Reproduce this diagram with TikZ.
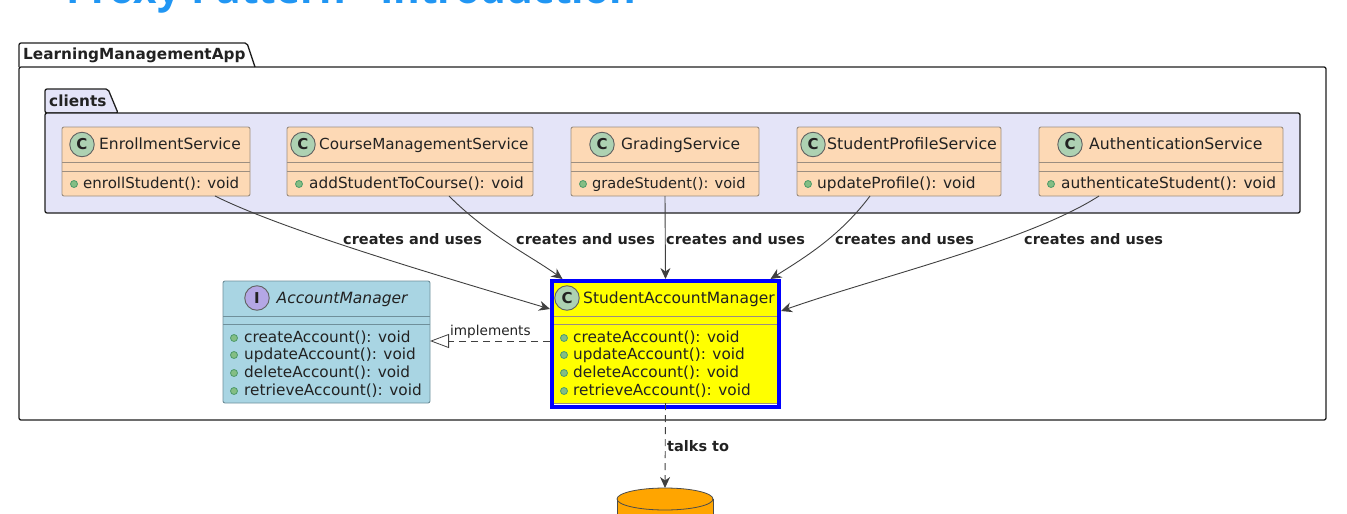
\documentclass[tikz,border=0pt]{standalone}
\usepackage{fontspec}
\setmainfont{DejaVu Sans}
\newfontfamily\titlefont{Open Sans}
\usetikzlibrary{arrows.meta}

\definecolor{pkgline}{HTML}{1E1E1E}
\definecolor{boxline}{HTML}{9C8E80}
\definecolor{acctline}{HTML}{6F8F9A}
\definecolor{peach}{HTML}{FDD9B5}
\definecolor{lavend}{HTML}{E4E4F8}
\definecolor{lightblue}{HTML}{A9D5E3}
\definecolor{circC}{HTML}{ADD1B2}
\definecolor{circI}{HTML}{B4A7E5}
\definecolor{dotfill}{HTML}{84BE84}
\definecolor{dotline}{HTML}{4E9A6A}
\definecolor{titleblue}{HTML}{2196F3}
\definecolor{txt}{HTML}{222222}
\definecolor{samyellow}{HTML}{FFFF00}
\definecolor{samblue}{HTML}{0000FF}
\definecolor{dborange}{HTML}{FFA500}

\tikzset{
  pkg/.style={draw=pkgline,line width=1.3pt,rounded corners=2pt},
  pkgname/.style={anchor=base west,inner sep=0pt,font=\bfseries\fontsize{15.3}{17}\selectfont,text=txt},
  classbox/.style={draw=boxline,line width=0.9pt,rounded corners=2pt,inner sep=0pt,outer sep=0pt},
  divline/.style={draw=boxline,line width=0.9pt},
  circbox/.style={circle,draw=pkgline!70,line width=0.9pt,minimum size=24.5pt,inner sep=0pt,font=\bfseries\fontsize{15}{15}\selectfont,text=txt},
  classname/.style={anchor=base west,inner sep=0pt,font=\fontsize{15.5}{17}\selectfont,text=txt},
  member/.style={anchor=base west,inner sep=0pt,font=\fontsize{15.3}{17}\selectfont,text=txt},
  memberdot/.style={circle,draw=dotline,fill=dotfill,line width=0.8pt,minimum size=7pt,inner sep=0pt},
  conn/.style={draw=pkgline!85,line width=0.9pt,-{Stealth[length=11pt,width=10pt,inset=3.5pt]}},
  connlabel/.style={anchor=base west,inner sep=0pt,font=\bfseries\fontsize{14.5}{16}\selectfont,text=txt},
}

\begin{document}
\begin{tikzpicture}[x=1pt,y=-1pt]
\useasboundingbox (0,0) rectangle (1347,514);

\node[anchor=base west,inner sep=0pt,text=titleblue,font=\titlefont\bfseries\fontsize{40.7}{48}\selectfont] (title) at (66,3) {Proxy Pattern - Introduction};

% outer package
\draw[pkg] (19,67) -- (19,43) -- (247,43) -- (255,67);
\draw[pkg] (19,67) rectangle (1326,420);
\node[pkgname] (appname) at (23,59) {LearningManagementApp};

% clients package
\draw[pkg,fill=lavend] (45,113) -- (45,89) -- (108,89) -- (118,113) -- cycle;
\draw[pkg,fill=lavend] (45,113) rectangle (1300,213);
\node[pkgname] (clientsname) at (49,106) {clients};

% client classes
\foreach \nm/\cx/\boxw/\xc/\xt/\xd/\xm/\fsa/\fsb/\clsname/\method in {
  enrol/156/188/82/99/74/83/15.5/15.0/EnrollmentService/{enrollStudent(): void},
  course/410/246/303/319/299/309/15.2/15.3/CourseManagementService/{addStudentToCourse(): void},
  grading/665/188/602/621/583/592/15.5/14.6/GradingService/{gradeStudent(): void},
  profile/899/204/813/827/808/817/15.8/15.4/StudentProfileService/{updateProfile(): void},
  auth/1161/244/1070/1089/1051/1061/15.7/15.4/AuthenticationService/{authenticateStudent(): void}}
{
  \node[classbox,fill=peach,minimum width=\boxw pt,minimum height=69pt] (\nm) at (\cx,161.5) {};
  \draw[divline] (\nm.west |- 0,162) -- (\nm.east |- 0,162);
  \draw[divline] (\nm.west |- 0,171) -- (\nm.east |- 0,171);
  \node[circbox,fill=circC] (\nm C) at (\xc,144.5) {C};
  \node[classname,font=\fontsize{\fsa}{17}\selectfont] (\nm T) at (\xt,149) {\clsname};
  \node[memberdot] (\nm D) at (\xd,184) {};
  \node[member,font=\fontsize{\fsb}{17}\selectfont] (\nm M) at (\xm,188) {\method};
}

% interface
\node[classbox,draw=acctline,fill=lightblue,minimum width=207pt,minimum height=122pt] (acct) at (326.5,342) {};
\draw[divline,draw=acctline] (acct.west |- 0,316) -- (acct.east |- 0,316);
\draw[divline,draw=acctline] (acct.west |- 0,324) -- (acct.east |- 0,324);
\node[circbox,fill=circI] (acctC) at (257,298) {I};
\node[classname,font=\itshape\fontsize{15.5}{17}\selectfont] (acctT) at (276.5,303) {AccountManager};

% implementing class
\node[fill=white,inner sep=0pt,outer sep=0pt,minimum width=227pt,minimum height=126pt] (sam) at (665.5,344) {};
\fill[samyellow] (552,281) rectangle (779,403);
\draw[divline] (552,316) -- (779,316);
\draw[divline] (552,324) -- (779,324);
\draw[divline] (552,403) -- (779,403);
\draw[samblue,line width=4pt] (sam.north west) rectangle (sam.south east);
\node[circbox,fill=circC] (samC) at (567,298) {C};
\node[classname] (samT) at (583,303) {StudentAccountManager};

% shared methods
\foreach \ky/\dx/\tx in {acct/234/244,sam/564/573}
  \foreach \row/\yy/\method in {a/342/createAccount,b/359/updateAccount,c/377/deleteAccount,d/395/retrieveAccount}
  {
    \node[memberdot] (\ky D\row) at (\dx,\yy-4) {};
    \node[member] (\ky M\row) at (\tx,\yy) {\method(): void};
  }

% database
\coordinate (db) at (665,488);
\draw[draw=pkgline!80,fill=dborange,line width=0.8pt] (617,499) -- (617,530) -- (713,530) -- (713,499);
\draw[draw=pkgline!80,fill=dborange,line width=0.8pt] (665,499) ellipse [x radius=48,y radius=11];

% connectors
\draw[conn] ([xshift=59pt]enrol.south) .. controls +(70,35) and +(-100,-30) .. ([xshift=-2pt,yshift=35pt]sam.west);
\draw[conn] ([xshift=39pt]course.south) .. controls +(40,40) and +(-30,-22) .. ([xshift=-103pt,yshift=2pt]sam.north);
\draw[conn] (grading.south) -- ([yshift=2pt]sam.north);
\draw[conn] ([xshift=-29pt]profile.south) .. controls +(-30,40) and +(35,-22) .. ([xshift=105pt,yshift=2pt]sam.north);
\draw[conn] ([xshift=-62pt]auth.south) .. controls +(-70,45) and +(100,-35) .. ([xshift=2pt,yshift=33pt]sam.east);
\draw[dashed,dash pattern=on 7pt off 5pt,draw=pkgline!85,line width=0.9pt,-{Triangle[open,length=19pt,width=14pt,line width=0.8pt]}] ([xshift=-2pt,yshift=3pt]sam.west) -- ([yshift=3pt]sam.west -| acct.east);
\draw[dashed,dash pattern=on 7pt off 5pt,draw=pkgline!85,line width=0.9pt,-{Stealth[length=11pt,width=10pt,inset=3.5pt]}] ([yshift=4pt]sam.south) -- (db);

% connector labels
\foreach \nn/\lx in {la/343,lb/516,lc/666,ld/835,le/1024}
  \node[connlabel] (\nn) at (\lx,244) {creates and uses};
\node[anchor=base west,inner sep=0pt,font=\fontsize{13.6}{16}\selectfont,text=txt] (implabel) at (450,335) {implements};
\node[connlabel] (talklabel) at (667,451) {talks to};

\end{tikzpicture}
\end{document}
